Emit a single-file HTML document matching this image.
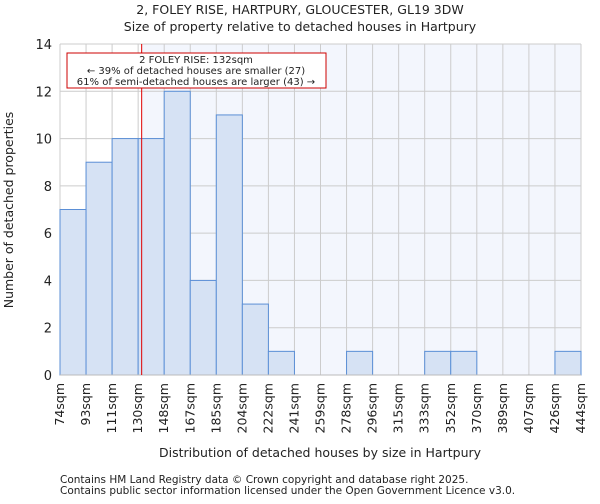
<!DOCTYPE html>
<html><head><meta charset="utf-8"><style>
body{margin:0;background:#fff;font-family:"DejaVu Sans","Liberation Sans",sans-serif;}
svg text{font-family:"DejaVu Sans","Liberation Sans",sans-serif;fill:#222;}
</style></head><body>
<svg id="chart" width="600" height="500" xmlns="http://www.w3.org/2000/svg">
<text x="300" y="14" font-size="12.5" text-anchor="middle">2, FOLEY RISE, HARTPURY, GLOUCESTER, GL19 3DW</text>
<text x="300" y="31" font-size="12.5" text-anchor="middle">Size of property relative to detached houses in Hartpury</text>
<g id="plot"></g>
<text x="320" y="457" font-size="12.5" text-anchor="middle">Distribution of detached houses by size in Hartpury</text>
<text transform="translate(13,210) rotate(-90)" font-size="12.5" text-anchor="middle">Number of detached properties</text>
<text x="60" y="483" font-size="10.5" fill="#444">Contains HM Land Registry data © Crown copyright and database right 2025.</text>
<text x="60" y="494" font-size="10.5" fill="#444">Contains public sector information licensed under the Open Government Licence v3.0.</text>
</svg>
<script>
const binLabels=["74sqm","93sqm","111sqm","130sqm","148sqm","167sqm","185sqm","204sqm","222sqm","241sqm","259sqm","278sqm","296sqm","315sqm","333sqm","352sqm","370sqm","389sqm","407sqm","426sqm","444sqm"];
const binEdges=[74,92.5,111,129.5,148,166.5,185,203.5,222,240.5,259,277.5,296,314.5,333,351.5,370,388.5,407,425.5,444];
const counts=[7,9,10,10,12,4,11,3,1,0,0,1,0,0,1,1,0,0,0,1];
const yTicks=[0,2,4,6,8,10,12,14];
const propertySize=132;
const L=60,R=581,T=44,B=375,yMax=14;
const xs=v=>L+(v-binEdges[0])/(binEdges[binEdges.length-1]-binEdges[0])*(R-L);
const ys=v=>B-v/yMax*(B-T);
const NS="http://www.w3.org/2000/svg";
const g=document.getElementById('plot');
function mk(t,a){const e=document.createElementNS(NS,t);for(const k in a)e.setAttribute(k,a[k]);g.appendChild(e);return e;}
const bg=mk('rect',{x:L,y:T,width:R-L,height:B-T,fill:'#fff'});


const px=xs(propertySize);
const sh=mk('rect',{x:px,y:T,width:R-px,height:B-T,fill:'#f3f6fd'});


yTicks.forEach(t=>{
 const l=mk('line',{x1:L,x2:R,y1:ys(t),y2:ys(t),stroke:'#cccccc','stroke-width':1});
 
 
 const tx=mk('text',{x:L-8,y:ys(t)+5,'font-size':13,'text-anchor':'end'});tx.textContent=t;
 
 
});
binEdges.forEach((e,i)=>{
 const l=mk('line',{x1:xs(e),x2:xs(e),y1:T,y2:B,stroke:'#cccccc','stroke-width':1});
 
 
 const x=xs(e)+4,y=B+8;
 const tx=mk('text',{x:x,y:y,'font-size':12.5,'text-anchor':'end',transform:`rotate(-90 ${x} ${y})`});tx.textContent=binLabels[i];
 
 
});
counts.forEach((c,i)=>{
 if(c<=0)return;
 const r=mk('rect',{x:xs(binEdges[i]),y:ys(c),width:xs(binEdges[i+1])-xs(binEdges[i]),height:B-ys(c),fill:'#d6e2f4',stroke:'#5b8fd6','stroke-width':1});
 
 
});
const ax=mk('line',{x1:L,x2:R,y1:B,y2:B,stroke:'#bbbbbb'});


const rl=mk('line',{x1:px,x2:px,y1:T,y2:B,stroke:'#e00000','stroke-width':1});


const box=mk('rect',{x:67,y:53,width:259,height:35,fill:'#fff',stroke:'#cc0000','stroke-width':1});


["2 FOLEY RISE: 132sqm","← 39% of detached houses are smaller (27)","61% of semi-detached houses are larger (43) →"].forEach((s,i)=>{
 const t=mk('text',{x:196,y:63+i*11,'font-size':10,'text-anchor':'middle'});t.textContent=s;
 
 
});
</script>
</body></html>
